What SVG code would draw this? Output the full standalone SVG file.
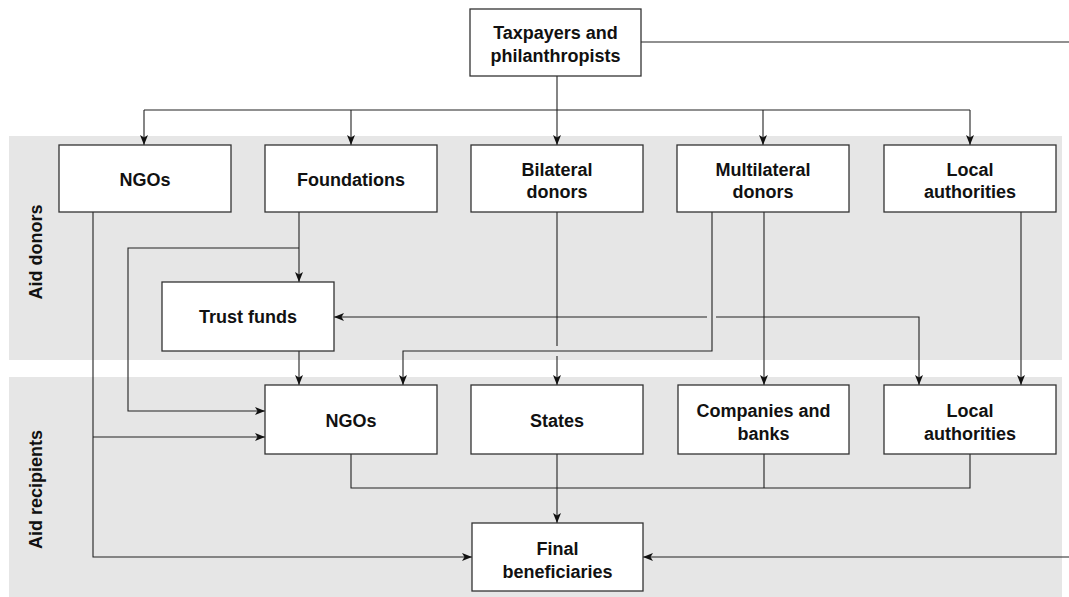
<svg xmlns="http://www.w3.org/2000/svg" width="1069" height="597" viewBox="0 0 1069 597">
<style>
.band{fill:#e6e6e6}
.box{fill:#fff;stroke:#333;stroke-width:1.3}
.t{font-family:"Liberation Sans",Arial,sans-serif;font-weight:bold;font-size:18px;fill:#111;text-anchor:middle}
.c{fill:none;stroke:#222;stroke-width:1.1}
.a{marker-end:url(#arr)}
</style>
<defs>
<marker id="arr" viewBox="0 0 10 8" refX="10" refY="4" markerWidth="10" markerHeight="8" markerUnits="userSpaceOnUse" orient="auto">
<path d="M0,0 L10,4 L0,8 L2.5,4 z" fill="#111"/>
</marker>
</defs>
<rect width="1069" height="597" fill="#fff"/>
<rect class="band" x="9" y="136" width="1053" height="224"/>
<rect class="band" x="9" y="377" width="1053" height="220"/>
<text class="t" transform="translate(41.5,252) rotate(-90)">Aid donors</text>
<text class="t" transform="translate(41.5,489.5) rotate(-90)">Aid recipients</text>

<g id="connectors">
<path class="c" d="M641,42 H1069"/>
<path class="c" d="M557,76 V110 M144,110 H970"/>
<path class="c a" d="M144,110 V145"/>
<path class="c a" d="M351,110 V145"/>
<path class="c a" d="M557,110 V145"/>
<path class="c a" d="M763,110 V145"/>
<path class="c a" d="M970,110 V145"/>
<path class="c a" d="M93,212 V557 H472"/>
<path class="c a" d="M93,437 H265"/>
<path class="c a" d="M299,212 V282"/>
<path class="c a" d="M299,248 H128 V411 H265"/>
<path class="c a" d="M299,351 V385"/>
<path class="c" d="M557,212 V346"/>
<path class="c a" d="M557,356 V385"/>
<path class="c a" d="M712,212 V351 H403 V385"/>
<path class="c a" d="M764,212 V385"/>
<path class="c a" d="M1021,212 V385"/>
<path class="c a" d="M707,317 H334"/>
<path class="c a" d="M716,317 H919 V385"/>
<path class="c" d="M351,454 V488 H970 V454 M764,454 V488"/>
<path class="c a" d="M557,454 V523"/>
<path class="c a" d="M1069,557 H643"/>
</g>

<g id="taxpayers"><rect class="box" x="470" y="9" width="171" height="67"/><text class="t" x="555.5" y="38.5">Taxpayers and</text><text class="t" x="555.5" y="62">philanthropists</text></g>
<g id="donor-ngos"><rect class="box" x="59" y="145" width="172" height="67"/><text class="t" x="145" y="185.5">NGOs</text></g>
<g id="foundations"><rect class="box" x="265" y="145" width="172" height="67"/><text class="t" x="351" y="185.5">Foundations</text></g>
<g id="bilateral"><rect class="box" x="471" y="145" width="172" height="67"/><text class="t" x="557" y="176">Bilateral</text><text class="t" x="557" y="198">donors</text></g>
<g id="multilateral"><rect class="box" x="677" y="145" width="172" height="67"/><text class="t" x="763" y="176">Multilateral</text><text class="t" x="763" y="198">donors</text></g>
<g id="donor-local"><rect class="box" x="884" y="145" width="172" height="67"/><text class="t" x="970" y="176">Local</text><text class="t" x="970" y="198">authorities</text></g>
<g id="trust-funds"><rect class="box" x="162" y="282" width="172" height="69"/><text class="t" x="248" y="323">Trust funds</text></g>
<g id="rec-ngos"><rect class="box" x="265" y="385" width="172" height="69"/><text class="t" x="351" y="426.5">NGOs</text></g>
<g id="states"><rect class="box" x="471" y="385" width="172" height="69"/><text class="t" x="557" y="426.5">States</text></g>
<g id="companies"><rect class="box" x="678" y="385" width="171" height="69"/><text class="t" x="763.5" y="416.5">Companies and</text><text class="t" x="763.5" y="439.5">banks</text></g>
<g id="rec-local"><rect class="box" x="884" y="385" width="172" height="69"/><text class="t" x="970" y="416.5">Local</text><text class="t" x="970" y="439.5">authorities</text></g>
<g id="final"><rect class="box" x="472" y="523" width="171" height="68"/><text class="t" x="557.5" y="555">Final</text><text class="t" x="557.5" y="578">beneficiaries</text></g>
</svg>
